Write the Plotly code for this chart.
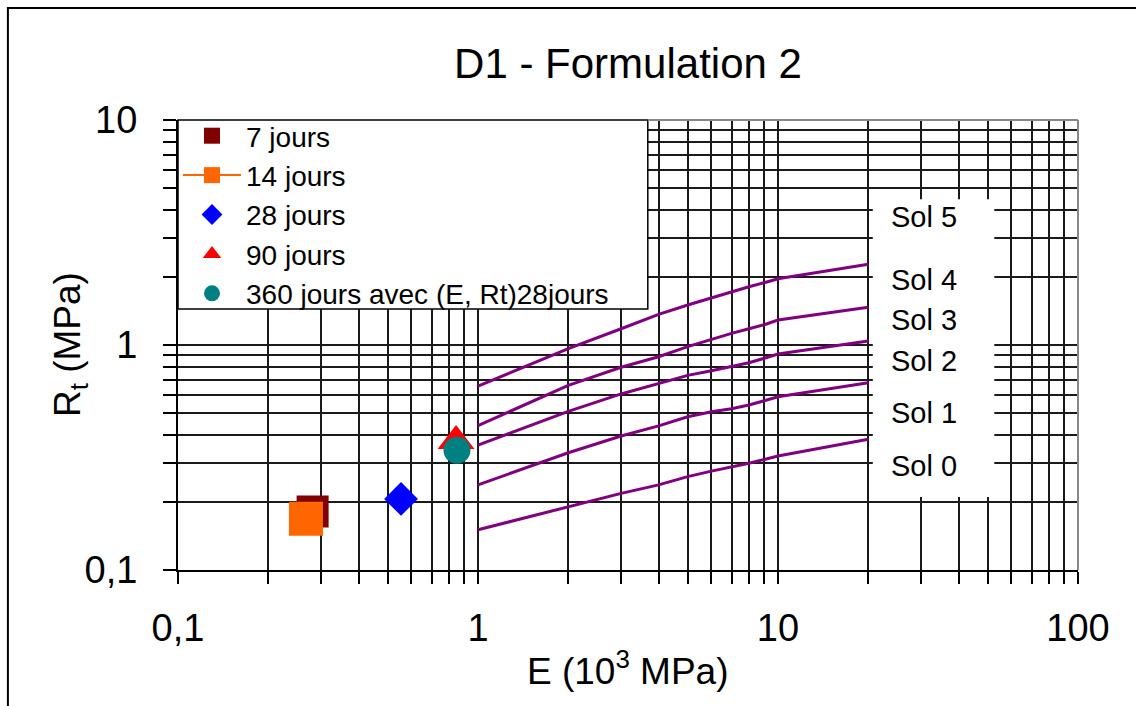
import numpy as np
import plotly.graph_objects as go

# ---- measured results (E in 10^3 MPa, Rt in MPa) ----
e_7j, rt_7j = [0.281], [0.182]
e_14j, rt_14j = [0.267], [0.169]
e_28j, rt_28j = [0.554], [0.207]
e_90j, rt_90j = [0.845], [0.374]
e_360j, rt_360j = [0.851], [0.341]

# ---- soil class boundaries ----
e_bound = [1, 2, 3, 4, 5, 6, 7, 8, 9, 10, 20]
rt_sol0_1 = [0.151, 0.191, 0.219, 0.239, 0.260, 0.275, 0.286, 0.298, 0.310, 0.321, 0.381]
rt_sol1_2 = [0.239, 0.332, 0.394, 0.437, 0.480, 0.505, 0.521, 0.541, 0.565, 0.589, 0.680]
rt_sol2_3 = [0.359, 0.507, 0.606, 0.674, 0.733, 0.769, 0.801, 0.834, 0.873, 0.912, 1.042]
rt_sol3_4 = [0.438, 0.662, 0.796, 0.887, 0.983, 1.060, 1.127, 1.181, 1.231, 1.291, 1.471]
rt_sol4_5 = [0.657, 0.963, 1.181, 1.369, 1.506, 1.623, 1.733, 1.816, 1.892, 1.971, 2.284]

# ---- class labels ----
sol_labels = ["Sol 5", "Sol 4", "Sol 3", "Sol 2", "Sol 1", "Sol 0"]
sol_label_rt = [3.70, 1.94, 1.29, 0.85, 0.50, 0.29]
sol_label_e = 23.4

# ---- axis ticks ----
x_decades = [0.1, 1, 10, 100]
x_decade_text = ["0,1", "1", "10", "100"]
y_decades = [0.1, 1, 10]
y_decade_text = ["0,1", "1", "10"]

FONT = "Liberation Sans, Arial, Helvetica, sans-serif"
PURPLE = "#800080"


def log_ticks(decades, texts):
    vals, labels = [], []
    for i, d in enumerate(decades):
        vals.append(d)
        labels.append(texts[i])
        if i < len(decades) - 1:
            for m in range(2, 10):
                vals.append(d * m)
                labels.append("")
    return vals, labels


xt_vals, xt_text = log_ticks(x_decades, x_decade_text)
yt_vals, yt_text = log_ticks(y_decades, y_decade_text)

fig = go.Figure()

for rt in [rt_sol0_1, rt_sol1_2, rt_sol2_3, rt_sol3_4, rt_sol4_5]:
    fig.add_trace(go.Scatter(x=e_bound, y=rt, mode="lines",
                             line=dict(color=PURPLE, width=3),
                             showlegend=False, hoverinfo="skip"))

fig.add_trace(go.Scatter(x=e_7j, y=rt_7j, mode="markers", name="7 jours",
                         marker=dict(symbol="square", size=32, color="#800000")))
fig.add_trace(go.Scatter(x=e_14j, y=rt_14j, mode="lines+markers", name="14 jours",
                         line=dict(color="#FF6600", width=2),
                         marker=dict(symbol="square", size=34, color="#FF6600")))
fig.add_trace(go.Scatter(x=e_28j, y=rt_28j, mode="markers", name="28 jours",
                         marker=dict(symbol="diamond", size=26, color="#0000FF")))
fig.add_trace(go.Scatter(x=e_90j, y=rt_90j, mode="markers", name="90 jours",
                         marker=dict(symbol="triangle-up", size=32, color="#FF0000")))
fig.add_trace(go.Scatter(x=e_360j, y=rt_360j, mode="markers",
                         name="360 jours avec (E, Rt)28jours",
                         marker=dict(symbol="circle", size=27, color="#008080")))

annotations = []
# class labels (log axes: annotation positions in log10 units)
for lab, rt in zip(sol_labels, sol_label_rt):
    annotations.append(dict(x=np.log10(sol_label_e), y=np.log10(rt), xref="x", yref="y",
                            text=lab, showarrow=False, xanchor="left", yanchor="middle",
                            font=dict(family=FONT, size=29, color="black")))
# axis titles
annotations.append(dict(x=0.5, y=-0.218, xref="paper", yref="paper",
                        text="E (10<sup>3</sup> MPa)", showarrow=False,
                        xanchor="center", yanchor="middle",
                        font=dict(family=FONT, size=37, color="black")))
annotations.append(dict(x=-0.12, y=0.5, xref="paper", yref="paper",
                        text="R<sub>t</sub> (MPa)", showarrow=False, textangle=-90,
                        xanchor="center", yanchor="middle",
                        font=dict(family=FONT, size=37, color="black")))

shapes = [
    # legend panel
    dict(type="rect", xref="x domain", yref="y domain", x0=0.0, x1=0.522,
         y0=0.58, y1=1.0, fillcolor="white", line=dict(color="black", width=1.5),
         layer="above"),
    # white panel behind the class labels
    dict(type="rect", xref="x domain", yref="y domain", x0=0.772, x1=0.907,
         y0=0.162, y1=0.824, fillcolor="white", line=dict(width=0), layer="above"),
    # plot area frame (top and right)
    dict(type="line", xref="x domain", yref="y domain", x0=0.522, x1=1, y0=1, y1=1,
         line=dict(color="#888888", width=2), layer="above"),
    dict(type="line", xref="x domain", yref="y domain", x0=1, x1=1, y0=0, y1=1,
         line=dict(color="#888888", width=2), layer="above"),
    # outer chart frame
    dict(type="rect", xref="paper", yref="paper", x0=-0.189, x1=1.07,
         y0=-0.32, y1=1.249, line=dict(color="black", width=2),
         fillcolor="rgba(0,0,0,0)", layer="above"),
]

fig.update_layout(
    width=1136, height=706,
    margin=dict(l=178, r=58, t=120, b=136),
    paper_bgcolor="white", plot_bgcolor="white",
    font=dict(family=FONT, color="black"),
    title=dict(text="D1 - Formulation 2", x=0.5, xref="paper", xanchor="center",
               y=1 - 63 / 706, yref="container", yanchor="middle",
               font=dict(family=FONT, size=42, color="black")),
    showlegend=True,
    legend=dict(x=0, y=1.02, xanchor="left", yanchor="top",
                bgcolor="rgba(0,0,0,0)", borderwidth=0,
                font=dict(family=FONT, size=28, color="black"),
                itemwidth=58, tracegroupgap=0),
    shapes=shapes,
    annotations=annotations,
    xaxis=dict(type="log", range=[-1, 2], tickmode="array",
               tickvals=xt_vals, ticktext=xt_text,
               showgrid=True, gridcolor="#1a1a1a", gridwidth=1.5,
               showline=True, linecolor="black", linewidth=2,
               ticks="outside", ticklen=12, tickwidth=1.5, tickcolor="black",
               ticklabelstandoff=11,
               tickfont=dict(family=FONT, size=38, color="black"),
               zeroline=False),
    yaxis=dict(type="log", range=[-1, 1], tickmode="array",
               tickvals=yt_vals, ticktext=yt_text,
               showgrid=True, gridcolor="#1a1a1a", gridwidth=1.5,
               showline=True, linecolor="black", linewidth=2,
               ticks="outside", ticklen=13, tickwidth=1.5, tickcolor="black",
               ticklabelstandoff=18,
               tickfont=dict(family=FONT, size=38, color="black"),
               zeroline=False),
)

fig.write_html("out.html")
